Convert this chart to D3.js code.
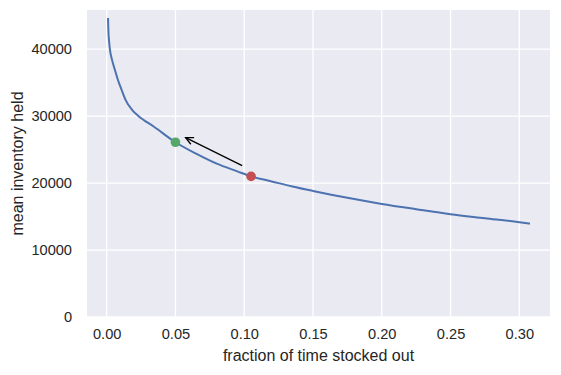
<!DOCTYPE html>
<html>
<head>
<meta charset="utf-8">
<script src="https://cdn.jsdelivr.net/npm/d3@7"></script>
<style>
  html, body { margin: 0; padding: 0; background: #ffffff; }
  svg { display: block; font-family: Arial, "Liberation Sans", Helvetica, sans-serif; }
</style>
</head>
<body>
<svg id="chart" width="561" height="375"></svg>
<script>
// ---- data ----
const stockoutFraction = [0.001, 0.0013, 0.0017, 0.0024, 0.0039, 0.006, 0.0082, 0.0109, 0.0138, 0.0186, 0.0235, 0.0344, 0.050, 0.065, 0.080, 0.095, 0.105, 0.120, 0.135, 0.150, 0.175, 0.200, 0.225, 0.250, 0.275, 0.300, 0.307];
const meanInventory = [44500, 42500, 41300, 39900, 38400, 36900, 35400, 33900, 32400, 30900, 29950, 28420, 26100, 24400, 22900, 21750, 21000, 20250, 19500, 18830, 17800, 16890, 16100, 15350, 14750, 14150, 13950];
const greenPoint = [0.05, 26100];
const redPoint = [0.105, 21000];
const arrowFrom = [0.0985, 22600];
const arrowTo = [0.0574, 26800];
const xTicks = [0.00, 0.05, 0.10, 0.15, 0.20, 0.25, 0.30];
const yTicks = [0, 10000, 20000, 30000, 40000];
const xLabel = "fraction of time stocked out";
const yLabel = "mean inventory held";

// ---- layout ----
const svg = d3.select("#chart");
const mLeft = 87, mRight = 550, mTop = 10, mBottom = 317;
const x = d3.scaleLinear().domain([-0.0143, 0.3223]).range([mLeft, mRight]);
const y = d3.scaleLinear().domain([0, 45850]).range([mBottom, mTop]);

svg.append("rect").attr("x", mLeft).attr("y", mTop)
  .attr("width", mRight - mLeft).attr("height", mBottom - mTop)
  .attr("fill", "#EAEAF2");

svg.append("defs").append("clipPath").attr("id", "clip")
  .append("rect").attr("x", mLeft).attr("y", mTop)
  .attr("width", mRight - mLeft).attr("height", mBottom - mTop);

// grid
svg.append("g").selectAll("line").data(xTicks).join("line")
  .attr("x1", d => x(d)).attr("x2", d => x(d))
  .attr("y1", mTop).attr("y2", mBottom)
  .attr("stroke", "#ffffff").attr("stroke-width", 1.3);
svg.append("g").selectAll("line").data(yTicks).join("line")
  .attr("x1", mLeft).attr("x2", mRight)
  .attr("y1", d => y(d)).attr("y2", d => y(d))
  .attr("stroke", "#ffffff").attr("stroke-width", 1.3);

// axes (labels only)
const xAxis = svg.append("g").attr("transform", `translate(0,${mBottom})`)
  .call(d3.axisBottom(x).tickValues(xTicks).tickFormat(d3.format(".2f")).tickSize(0).tickPadding(12));
const yAxis = svg.append("g").attr("transform", `translate(${mLeft},0)`)
  .call(d3.axisLeft(y).tickValues(yTicks).tickFormat(d3.format("d")).tickSize(0).tickPadding(15));
[xAxis, yAxis].forEach(a => {
  a.select(".domain").remove();
  a.selectAll("text").attr("fill", "#262626").style("font-size", "14.6px")
    .style("font-family", "Arial, 'Liberation Sans', sans-serif");
});

svg.append("text").attr("x", (mLeft + mRight) / 2).attr("y", 361)
  .attr("text-anchor", "middle").attr("fill", "#262626")
  .style("font-size", "16px").text(xLabel);
svg.append("text")
  .attr("transform", `translate(22.5,${(mTop + mBottom) / 2}) rotate(-90)`)
  .attr("text-anchor", "middle").attr("fill", "#262626")
  .style("font-size", "16px").text(yLabel);

// curve
const series = stockoutFraction.map((v, i) => [v, meanInventory[i]]);
svg.append("path").datum(series)
  .attr("clip-path", "url(#clip)")
  .attr("fill", "none").attr("stroke", "#4C72B0").attr("stroke-width", 2)
  .attr("stroke-linejoin", "round").attr("stroke-linecap", "square")
  .attr("d", d3.line().x(d => x(d[0])).y(d => y(d[1])).curve(d3.curveMonotoneX));

// points
svg.append("circle").attr("cx", x(greenPoint[0])).attr("cy", y(greenPoint[1]))
  .attr("r", 4.8).attr("fill", "#55A868");
svg.append("circle").attr("cx", x(redPoint[0])).attr("cy", y(redPoint[1]))
  .attr("r", 4.8).attr("fill", "#C44E52");

// arrow
const ax1 = x(arrowFrom[0]), ay1 = y(arrowFrom[1]);
const ax2 = x(arrowTo[0]), ay2 = y(arrowTo[1]);
svg.append("line").attr("x1", ax1).attr("y1", ay1).attr("x2", ax2).attr("y2", ay2)
  .attr("stroke", "#000000").attr("stroke-width", 1.3);
const ang = Math.atan2(ay1 - ay2, ax1 - ax2);
const hl = 8.5, ha = 0.45;
const p1 = [ax2 + hl * Math.cos(ang - ha), ay2 + hl * Math.sin(ang - ha)];
const p2 = [ax2 + hl * Math.cos(ang + ha), ay2 + hl * Math.sin(ang + ha)];
svg.append("path")
  .attr("d", `M${p1[0]},${p1[1]}L${ax2},${ay2}L${p2[0]},${p2[1]}`)
  .attr("fill", "none").attr("stroke", "#000000").attr("stroke-width", 1.3)
  .attr("stroke-linejoin", "miter");
</script>
</body>
</html>
